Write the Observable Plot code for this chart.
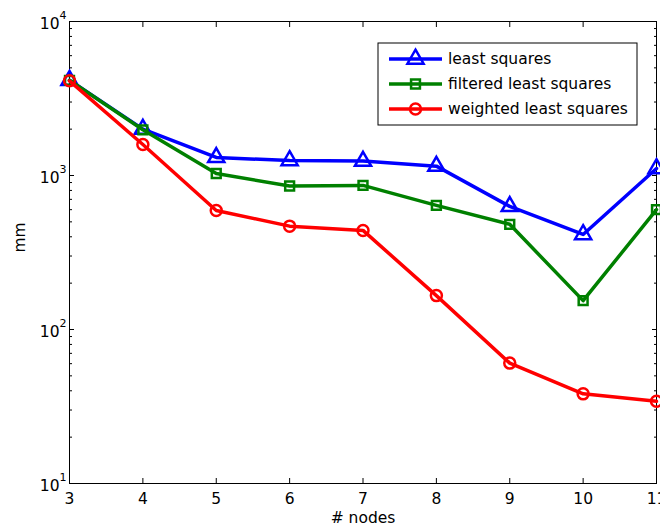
<!DOCTYPE html>
<html>
<head>
<meta charset="utf-8">
<script src="https://cdn.jsdelivr.net/npm/d3@7"></script>
<script src="https://cdn.jsdelivr.net/npm/@observablehq/plot@0.6"></script>
<style>
  html, body { margin: 0; padding: 0; background: #fff; }
  #chart { position: relative; width: 660px; height: 528px; overflow: hidden; }
  svg { font-family: "DejaVu Sans", "Liberation Sans", Arial, sans-serif; }
</style>
</head>
<body>
<div id="chart"></div>
<script>
const nodes = [3, 4, 5, 6, 7, 8, 9, 10, 11];
const leastSquares = [4150, 2000, 1310, 1250, 1240, 1150, 630, 414, 1110];
const filteredLeastSquares = [4150, 1980, 1030, 855, 862, 640, 482, 154, 600];
const weightedLeastSquares = [4120, 1590, 593, 469, 440, 166, 60.5, 38.2, 34.2];

const seriesNames = ["least squares", "filtered least squares", "weighted least squares"];
const seriesColors = ["#0000ff", "#008000", "#ff0000"];
const seriesSymbols = ["triangle", "square", "circle"];
const seriesValues = [leastSquares, filteredLeastSquares, weightedLeastSquares];

const xTicks = [3, 4, 5, 6, 7, 8, 9, 10, 11];
const yMajor = [10, 100, 1000, 10000];
const yMinor = [10, 100, 1000].flatMap(d => [2, 3, 4, 5, 6, 7, 8, 9].map(k => k * d));

const rows = seriesNames.flatMap((s, i) =>
  nodes.map((n, j) => ({series: s, x: n, y: seriesValues[i][j], i})));

const markR = {triangle: 6, square: 5, circle: 5.5};
const FS = 15.5;
const FONT = "DejaVu Sans, Liberation Sans, Arial, sans-serif";

const marks = [
  Plot.frame({stroke: "black", strokeWidth: 1}),
  Plot.axisX({ticks: xTicks, tickSize: -5, tickFormat: () => "", label: null}),
  Plot.axisX({anchor: "top", ticks: xTicks, tickSize: -5, tickFormat: () => "", label: null}),
  Plot.axisY({ticks: yMajor, tickSize: -5, tickFormat: () => "", label: null}),
  Plot.axisY({ticks: yMinor, tickSize: -3, tickFormat: () => "", label: null}),
  Plot.axisY({anchor: "right", ticks: yMajor, tickSize: -5, tickFormat: () => "", label: null}),
  Plot.axisY({anchor: "right", ticks: yMinor, tickSize: -3, tickFormat: () => "", label: null}),
  Plot.text(xTicks, {x: d => d, y: 10, text: d => String(d), dy: 16, fontSize: FS, lineAnchor: "middle", fill: "black"}),
  Plot.text(yMajor, {x: 3, y: d => d, text: () => "10", textAnchor: "end", dx: -10, dy: 3, fontSize: FS, fill: "black"}),
  Plot.text(yMajor, {x: 3, y: d => d, text: d => String(Math.round(Math.log10(d))), textAnchor: "start", dx: -10, dy: -6.5, fontSize: 11, fill: "black"}),
  Plot.text(["# nodes"], {frameAnchor: "bottom", dy: 35, lineAnchor: "middle", fontSize: FS, fill: "black"}),
  Plot.text(["mm"], {frameAnchor: "left", dx: -49, rotate: -90, fontSize: FS, fill: "black"})
];

seriesNames.forEach((s, i) => {
  const data = rows.filter(r => r.i === i);
  marks.push(Plot.line(data, {x: "x", y: "y", stroke: seriesColors[i], strokeWidth: 3.5, strokeLinejoin: "round"}));
  marks.push(Plot.dot(data, {x: "x", y: "y", symbol: seriesSymbols[i], r: markR[seriesSymbols[i]], stroke: seriesColors[i], fill: "none", strokeWidth: 2.5}));
});

const plot = Plot.plot({
  width: 660,
  height: 528,
  marginLeft: 69,
  marginTop: 21,
  marginRight: 4,
  marginBottom: 45,
  style: {fontFamily: FONT, background: "white", overflow: "visible"},
  x: {domain: [3, 11], axis: null},
  y: {type: "log", domain: [10, 10000], axis: null},
  marks
});

// Legend (inside the axes, top-right)
const svg = d3.select(plot);
const lg = svg.append("g").attr("transform", "translate(378,43)").attr("text-anchor", "start");
lg.append("rect").attr("width", 259).attr("height", 82).attr("fill", "white").attr("stroke", "black").attr("stroke-width", 1);
const symMap = {triangle: d3.symbolTriangle, square: d3.symbolSquare, circle: d3.symbolCircle};
seriesNames.forEach((s, i) => {
  const y = 16 + i * 25;
  lg.append("line").attr("x1", 11).attr("x2", 64).attr("y1", y).attr("y2", y)
    .attr("stroke", seriesColors[i]).attr("stroke-width", 3.5);
  const r = markR[seriesSymbols[i]];
  lg.append("path").attr("d", d3.symbol(symMap[seriesSymbols[i]], Math.PI * r * r)())
    .attr("transform", `translate(37.5,${y})`)
    .attr("fill", "none").attr("stroke", seriesColors[i]).attr("stroke-width", 2.5);
  lg.append("text").attr("x", 70).attr("y", y).attr("dy", "0.35em")
    .attr("text-anchor", "start").attr("font-family", FONT)
    .attr("font-size", FS).attr("fill", "black").text(s);
});

document.getElementById("chart").appendChild(plot);
</script>
</body>
</html>
